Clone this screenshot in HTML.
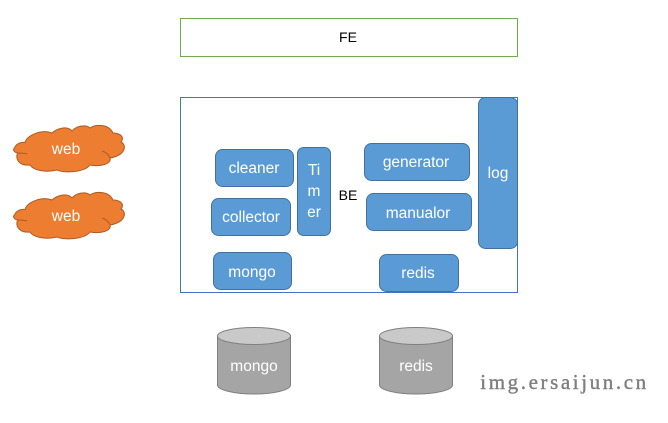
<!DOCTYPE html>
<html>
<head>
<meta charset="utf-8">
<style>
html,body{margin:0;padding:0;background:#fff}
body{width:668px;height:423px;overflow:hidden}
svg{display:block}
text{font-family:"Liberation Sans",sans-serif;font-size:15.500px;text-anchor:middle}
.w{fill:#fff}
.k{fill:#000;font-size:14px}
.b{fill:#5b9bd5;stroke:#41719c;stroke-width:1}
.c{fill:#ed7d31;stroke:#ae5a21;stroke-width:1}
.l{fill:none;stroke:#ae5a21;stroke-width:1}
.d{fill:#a5a5a5;stroke:#808080;stroke-width:1}
.t{fill:#c9c9c9;stroke:#808080;stroke-width:1}
</style>
</head>
<body>
<svg width="668" height="423" viewBox="0 0 668 423" xmlns="http://www.w3.org/2000/svg">
<rect width="668" height="423" fill="#fff"/>
<rect x="180.500" y="18.500" width="337" height="38" fill="#fff" stroke="#70ad47"/>
<text x="348" y="42" class="k">FE</text>
<rect x="180.500" y="97.500" width="337" height="195" fill="#fff" stroke="#4472c4"/>
<text x="348" y="200" class="k">BE</text>

<rect class="b" x="215.500" y="149.500" width="78" height="37" rx="7"/>
<text x="254" y="173" class="w">cleaner</text>
<rect class="b" x="211.500" y="198.500" width="79" height="37" rx="7"/>
<text x="251" y="222" class="w">collector</text>
<rect class="b" x="213.500" y="252.500" width="78" height="37" rx="7"/>
<text x="252" y="277" class="w">mongo</text>
<rect class="b" x="297.500" y="147.500" width="33" height="88" rx="6"/>
<text x="314" y="175" class="w">Ti</text>
<text x="314" y="196" class="w">m</text>
<text x="314" y="217" class="w">er</text>
<rect class="b" x="364.500" y="143.500" width="105" height="37" rx="7"/>
<text x="416" y="167" class="w">generator</text>
<rect class="b" x="366.500" y="193.500" width="105" height="37" rx="7"/>
<text x="418" y="218" class="w">manualor</text>
<rect class="b" x="379.500" y="254.500" width="79" height="37" rx="7"/>
<text x="418" y="278" class="w">redis</text>
<rect class="b" x="478.500" y="97.500" width="39" height="151" rx="7"/>
<text x="498" y="178" class="w">log</text>

<g transform="translate(0,110)">
<path class="c" d="M14.500,38 C16,34 20,32 25,32.500 C27,25 42,19 52,23 C56,19 67,15 72,21 C76,16 86,14 90,18 C96,14 109,14 113,23 C120,23 125,27 121,32 C127,35 126,45 110,48 C112,54 100,57 90,55 C84,63 62,63 57,60 C45,63 33,60 30,55 C20,56 15,50 17.500,43 C13,42 13,39 14.500,38 Z"/>
<path class="l" d="M102,41 C106,42 109,45 110,48 M17.500,43 C20,43 24,43 27,44"/>
<text x="66" y="44" class="w">web</text>
</g>
<g transform="translate(0,177)">
<path class="c" d="M14.500,38 C16,34 20,32 25,32.500 C27,25 42,19 52,23 C56,19 67,15 72,21 C76,16 86,14 90,18 C96,14 109,14 113,23 C120,23 125,27 121,32 C127,35 126,45 110,48 C112,54 100,57 90,55 C84,63 62,63 57,60 C45,63 33,60 30,55 C20,56 15,50 17.500,43 C13,42 13,39 14.500,38 Z"/>
<path class="l" d="M102,41 C106,42 109,45 110,48 M17.500,43 C20,43 24,43 27,44"/>
<text x="66" y="44" class="w">web</text>
</g>

<path class="d" d="M217.500,336 V385 C217.500,390 234,394 254,394 C274,394 290.500,390 290.500,385 V336 Z"/>
<ellipse class="t" cx="254" cy="336" rx="36.500" ry="8.500"/>
<text x="254" y="371" class="w">mongo</text>
<path class="d" d="M379.500,336 V385 C379.500,390 396,394 416,394 C436,394 452.500,390 452.500,385 V336 Z"/>
<ellipse class="t" cx="416" cy="336" rx="36.500" ry="8.500"/>
<text x="416" y="371" class="w">redis</text>

<text x="564.500" y="389" style="font-family:'Liberation Serif',serif;font-size:21px;letter-spacing:2.600px;fill:#7f7f7f;stroke:#7f7f7f;stroke-width:.4px">img.ersaijun.cn</text>
</svg>
</body>
</html>
